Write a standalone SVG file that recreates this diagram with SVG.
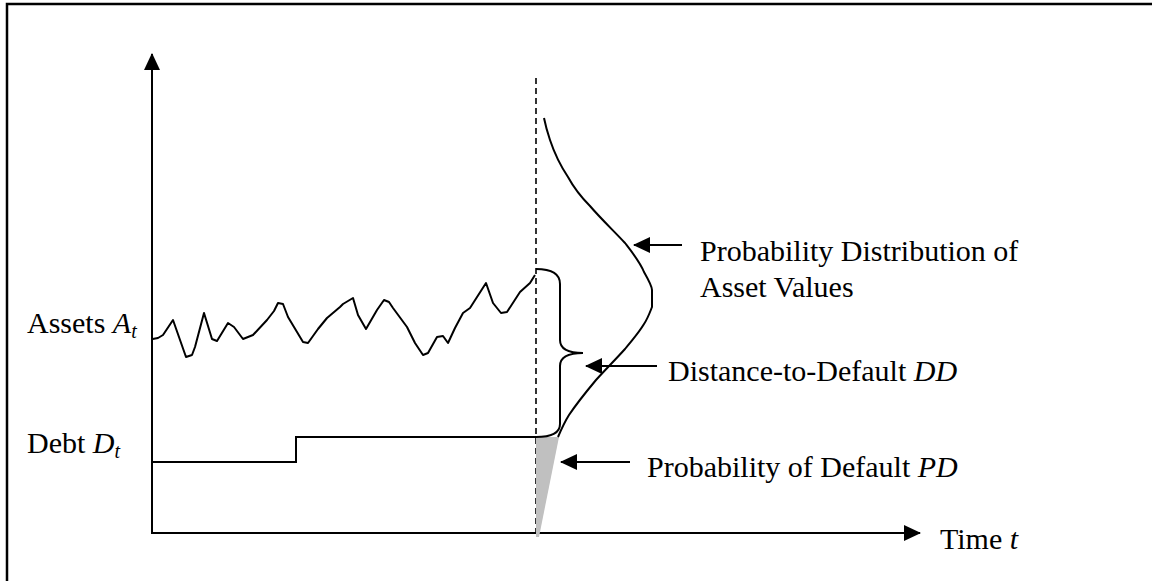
<svg xmlns="http://www.w3.org/2000/svg" width="1152" height="581" viewBox="0 0 1152 581">
<defs>
<style>
.t{font-family:"Liberation Serif","Times New Roman",serif;font-size:30px;fill:#000}
.i{font-style:italic}
.s{font-size:20px}
.ln{fill:none;stroke:#000;stroke-width:2}
</style>
<marker id="ah" markerWidth="17" markerHeight="16" refX="16" refY="8" orient="auto" markerUnits="userSpaceOnUse">
<path d="M0,0 L17,8 L0,16 Z" fill="#000"/>
</marker>
</defs>
<rect width="1152" height="581" fill="#fff"/>
<rect x="7" y="4" width="1160" height="600" fill="none" stroke="#000" stroke-width="2.5"/>
<g id="axes">
<line class="ln" x1="152" y1="534" x2="152" y2="54" marker-end="url(#ah)"/>
<line class="ln" x1="151" y1="533" x2="920" y2="533" marker-end="url(#ah)"/>
<line x1="536" y1="78" x2="536" y2="533" stroke="#000" stroke-width="1.6" stroke-dasharray="6,4"/>
</g>
<g id="pd-area">
<polygon points="536,437 559,437 539,537 536,537" fill="#c0c0c0"/>
</g>
<g id="assets-path">
<polyline class="ln" stroke-linejoin="round" points="152.7,339 158,338 163,335 173,320 186,357 192,355 195,347 204,313 212,339 217,341 228,323 234,327 243,339 253,335 267,320 274,311 278,303 283,304 288,317 300,337 303,342 308,343 318,329 327,318 340,307 343,304 353,298 358,315 366,329 377,310 384,300 389,302 393,308 407,327 415,343 423,355 428,353 437,337 443,336 448,343 455,328 463,313 470,308 486,283 493,303 501,313 507,312 520,292 530,283 535,275"/>
</g>
<g id="debt-path">
<polyline class="ln" points="152,462 296,462 296,437 536,437"/>
</g>
<g id="distribution">
<path class="ln" d="M544,118 C546,128 548,134 550,140 C554,152 560,165 568,177 C574,188 580,196 590,206 C602,220 615,232 625,243 C632,252 640,262 644,272 C648,279 652,287 652,290 L652,307 C650,312 648,318 644,324 C638,334 632,340 625,349 C616,359 606,369 596,380 C586,392 577,403 569,415 C564,423 561,430 558,437"/>
</g>
<g id="brace">
<path class="ln" d="M536,269 Q560,269 560,284 L560,340 Q560,353 583,353 Q560,353 560,366 L560,424 Q560,437 536,437"/>
</g>
<g id="connectors">
<line class="ln" x1="682" y1="245" x2="634" y2="245" marker-end="url(#ah)"/>
<line class="ln" x1="657" y1="366" x2="586" y2="366" marker-end="url(#ah)"/>
<line class="ln" x1="630" y1="462" x2="561" y2="462" marker-end="url(#ah)"/>
</g>
<g id="label-dist">
<text class="t" x="700" y="261">Probability Distribution of</text>
<text class="t" x="700" y="297">Asset Values</text>
</g>
<g id="label-dd">
<text class="t" x="668" y="381">Distance-to-Default <tspan class="i">DD</tspan></text>
</g>
<g id="label-pd">
<text class="t" x="647" y="477">Probability of Default <tspan class="i">PD</tspan></text>
</g>
<g id="label-assets">
<text class="t" x="27" y="333">Assets <tspan class="i">A</tspan><tspan class="i s" dy="5">t</tspan></text>
</g>
<g id="label-debt">
<text class="t" x="27" y="453">Debt <tspan class="i">D</tspan><tspan class="i s" dy="5">t</tspan></text>
</g>
<g id="label-time">
<text class="t" x="940" y="549">Time <tspan class="i">t</tspan></text>
</g>
</svg>
